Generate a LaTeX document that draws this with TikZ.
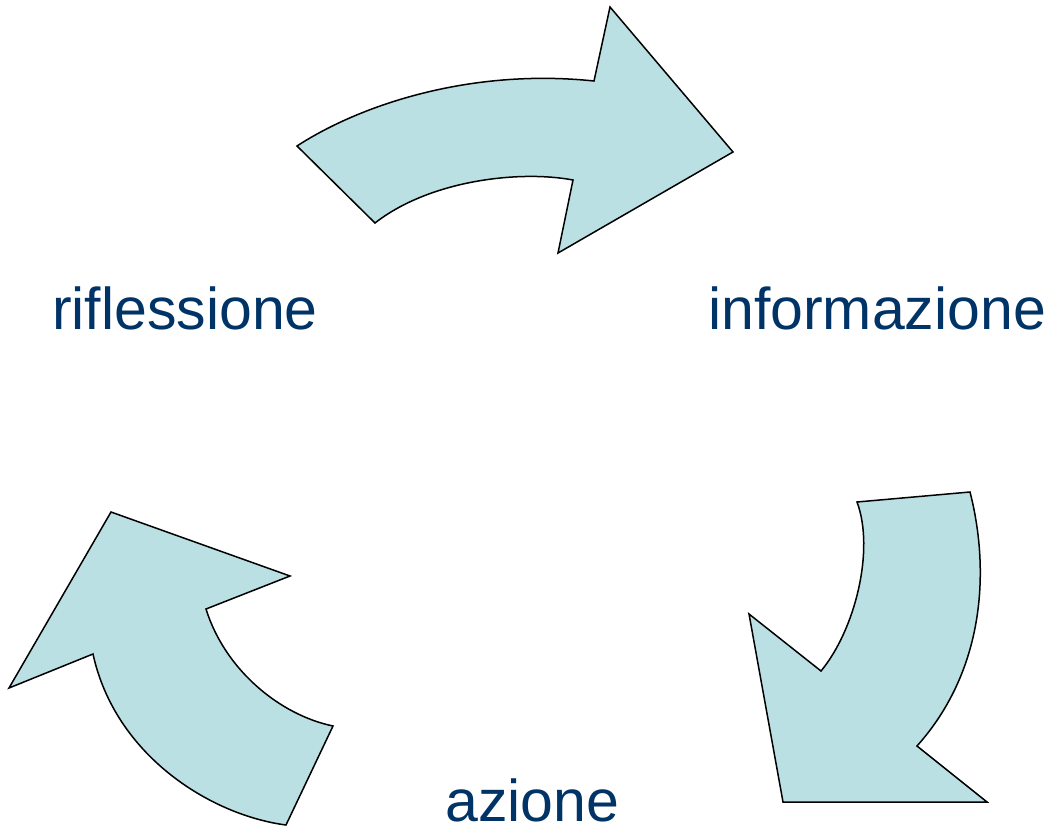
\documentclass[tikz,border=0pt]{standalone}
\usepackage{fontspec}
\setmainfont{Liberation Sans}
\definecolor{arrowfill}{HTML}{BAE0E3}
\definecolor{labelblue}{HTML}{003366}
\begin{document}
\begin{tikzpicture}[x=1pt,y=-1pt,
  cyclearrow/.style={fill=arrowfill,draw=black,line width=1.5pt,line join=miter},
  steplabel/.style={text=labelblue,font=\fontsize{59}{70}\selectfont,anchor=base west,inner sep=0pt}]
\useasboundingbox (0,0) rectangle (1052,832);
% top arrow
\path[cyclearrow] (297,146) .. controls (360,105) and (470,68) .. (594,81)
  -- (610,7) -- (733,152) -- (558,253) -- (573,180)
  .. controls (520,170) and (430,180) .. (375,223) -- cycle;
% right arrow
\path[cyclearrow] (857,502) -- (970,492)
  .. controls (990,570) and (985,670) .. (917,746)
  -- (987,802) -- (783,802) -- (749,614) -- (821,671)
  .. controls (855,630) and (875,550) .. (857,502) -- cycle;
% left arrow
\path[cyclearrow] (111,512) -- (290,576) -- (206,609)
  .. controls (225,670) and (280,715) .. (333,726)
  -- (286,825)
  .. controls (210,815) and (115,755) .. (93,654)
  -- (9,688) -- cycle;
\node[steplabel] (rifl) at (52,329) {riflessione};
\node[steplabel] (info) at (708,329) {informazione};
\node[steplabel] (azio) at (445,821) {azione};
\end{tikzpicture}
\end{document}
